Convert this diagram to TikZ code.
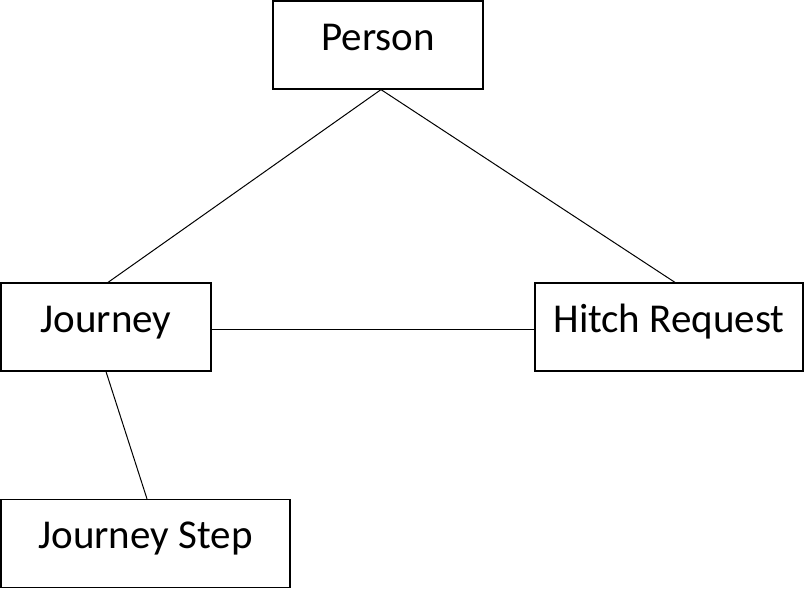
\documentclass[tikz,border=0pt]{standalone}
\usepackage{fontspec}
\setmainfont{Carlito}
\usetikzlibrary{positioning}

\tikzset{
  entity/.style={draw,line width=1.2pt,inner sep=0pt,minimum width=210pt,
    text height=49pt,text depth=39pt,font=\fontsize{41}{49}\selectfont}
}

\begin{document}
\begin{tikzpicture}[x=1pt,y=-1pt]
  \useasboundingbox (0,0) rectangle (804,589);
  \node[entity] (person) at (378,45) {Person};
  \node[entity] (journey) at (106,327) {Journey};
  \node[entity,minimum width=268pt] (hitch) at (669,327) {Hitch Request};
  \node[entity,minimum width=289pt] (step) at (145.5,543.5) {Journey Step};
  \path[line width=1pt]
    ([xshift=3pt]person.south) edge ([xshift=2pt]journey.north)
                               edge ([xshift=6pt]hitch.north)
    ([yshift=-2pt]journey.east) edge ([yshift=-2pt]hitch.west)
    (journey.south) edge ([xshift=1.5pt]step.north);
\end{tikzpicture}
\end{document}
